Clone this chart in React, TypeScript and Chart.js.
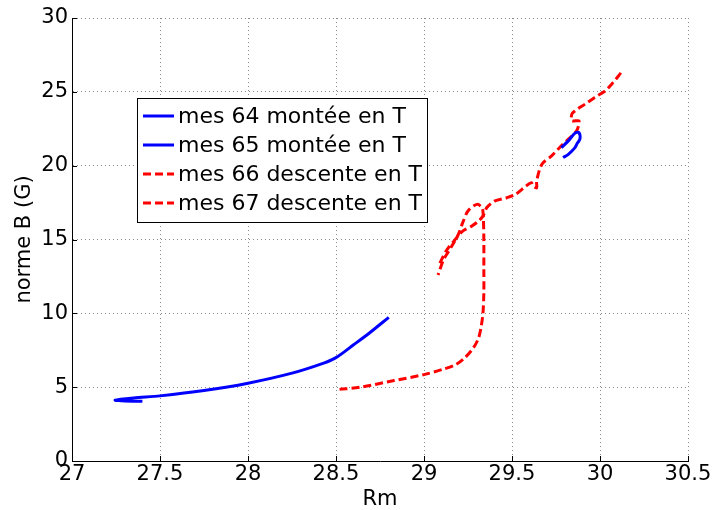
import React, { useEffect, useRef } from "react";
import { Chart, registerables } from "chart.js";

Chart.register(...registerables);

const xTicks = [27, 27.5, 28, 28.5, 29, 29.5, 30, 30.5];
const yTicks = [0, 5, 10, 15, 20, 25, 30];
const seriesLabels = [
  "mes 64 montée en T",
  "mes 65 montée en T",
  "mes 66 descente en T",
  "mes 67 descente en T",
];

const mes64X = [27.4, 27.3, 27.245, 27.35, 27.5, 27.75, 28.0, 28.25, 28.43, 28.5, 28.6, 28.69, 28.8];
const mes64Y = [4.05, 4.07, 4.12, 4.27, 4.41, 4.77, 5.27, 5.95, 6.63, 7.0, 7.87, 8.67, 9.73];

const mes65X = [29.78, 29.82, 29.858, 29.88, 29.886, 29.87, 29.858, 29.82, 29.79];
const mes65Y = [21.22, 21.68, 22.2, 22.25, 21.8, 21.5, 21.22, 20.77, 20.55];

const mes66X = [28.52, 28.64, 28.83, 29.0, 29.11, 29.18, 29.23, 29.28, 29.31, 29.325, 29.335, 29.34, 29.34, 29.34, 29.337, 29.33, 29.3, 29.25, 29.22, 29.195, 29.17, 29.14, 29.11, 29.08];
const mes66Y = [4.85, 5.0, 5.45, 5.85, 6.22, 6.52, 6.97, 7.65, 8.33, 9.12, 10.0, 11.4, 13.0, 15.0, 16.5, 17.15, 17.38, 16.93, 16.14, 15.34, 14.8, 14.2, 13.6, 12.6];

const mes67X = [29.09, 29.13, 29.186, 29.22, 29.27, 29.31, 29.336, 29.356, 29.4, 29.47, 29.52, 29.58, 29.61, 29.62, 29.64, 29.64, 29.67, 29.725, 29.78, 29.83, 29.867, 29.88, 29.88, 29.84, 29.84, 29.858, 29.915, 29.97, 30.03, 30.075, 30.12];
const mes67Y = [13.4, 14.3, 15.12, 15.57, 15.9, 16.25, 16.6, 17.15, 17.6, 17.83, 18.06, 18.62, 18.85, 18.62, 18.5, 18.96, 20.1, 20.66, 21.34, 21.9, 22.36, 22.81, 23.04, 23.04, 23.49, 23.71, 24.17, 24.62, 25.07, 25.64, 26.3];

const FONT = "'DejaVu Sans', sans-serif";

const toPts = (xs: number[], ys: number[]) => xs.map((x, i) => ({ x, y: ys[i] }));

const legendPlugin = {
  id: "boxLegend",
  afterDraw(chart: any) {
    const { ctx, chartArea } = chart;
    const left = chartArea.left + 65;
    const top = chartArea.top + 80;
    const w = 290;
    const h = 124;
    ctx.save();
    ctx.fillStyle = "#ffffff";
    ctx.fillRect(left, top, w, h);
    ctx.strokeStyle = "#000000";
    ctx.lineWidth = 1;
    ctx.setLineDash([]);
    ctx.strokeRect(left + 0.5, top + 0.5, w, h);
    chart.data.datasets.forEach((ds: any, i: number) => {
      const cy = top + 18 + i * 29;
      ctx.beginPath();
      ctx.strokeStyle = ds.borderColor;
      ctx.lineWidth = 3;
      ctx.setLineDash(ds.borderDash || []);
      ctx.moveTo(left + 6, cy);
      ctx.lineTo(left + 37, cy);
      ctx.stroke();
      ctx.setLineDash([]);
      ctx.fillStyle = "#000";
      ctx.font = `22px ${FONT}`;
      ctx.textBaseline = "middle";
      ctx.textAlign = "left";
      ctx.fillText(ds.label, left + 41, cy + 1);
    });
    ctx.restore();
  },
};

const tickMarkPlugin = {
  id: "inwardTicks",
  afterDatasetsDraw(chart: any) {
    const { ctx, chartArea, scales } = chart;
    ctx.save();
    ctx.strokeStyle = "#000";
    ctx.lineWidth = 1;
    ctx.setLineDash([]);
    xTicks.forEach((v) => {
      const px = Math.round(scales.x.getPixelForValue(v)) + 0.5;
      ctx.beginPath();
      ctx.moveTo(px, chartArea.bottom);
      ctx.lineTo(px, chartArea.bottom - 5);
      ctx.stroke();
    });
    yTicks.forEach((v) => {
      const py = Math.round(scales.y.getPixelForValue(v)) + 0.5;
      ctx.beginPath();
      ctx.moveTo(chartArea.left, py);
      ctx.lineTo(chartArea.left + 5, py);
      ctx.stroke();
    });
    ctx.restore();
  },
};

export default function App() {
  const ref = useRef<HTMLCanvasElement | null>(null);

  useEffect(() => {
    document.body.style.margin = "0";
    if (!ref.current) return;
    const blue = "#0000ff";
    const red = "#ff0000";
    const common = { borderWidth: 3, showLine: true, pointRadius: 0, fill: false, tension: 0.3 };
    const chart = new Chart(ref.current, {
      type: "scatter",
      data: {
        datasets: [
          { label: seriesLabels[0], data: toPts(mes64X, mes64Y), borderColor: blue, backgroundColor: blue, ...common },
          { label: seriesLabels[1], data: toPts(mes65X, mes65Y), borderColor: blue, backgroundColor: blue, ...common },
          { label: seriesLabels[2], data: toPts(mes66X, mes66Y), borderColor: red, backgroundColor: red, borderDash: [8, 4], ...common },
          { label: seriesLabels[3], data: toPts(mes67X, mes67Y), borderColor: red, backgroundColor: red, borderDash: [8, 4], ...common },
        ],
      },
      options: {
        animation: false,
        responsive: false,
        devicePixelRatio: 1,
        layout: { padding: { left: 0, top: 18, right: 25, bottom: 0 } },
        plugins: { legend: { display: false }, tooltip: { enabled: false } },
        scales: {
          x: {
            type: "linear",
            min: 27,
            max: 30.5,
            afterBuildTicks: (s: any) => {
              s.ticks = xTicks.map((v) => ({ value: v }));
            },
            afterFit: (s: any) => {
              s.height = 49;
            },
            ticks: { color: "#000", font: { family: FONT, size: 21 }, padding: 1, maxRotation: 0, autoSkip: false, callback: (v: any) => String(v) },
            grid: { color: "#8a8a8a", lineWidth: 1, drawTicks: false },
            border: { display: true, color: "#000", width: 1, dash: [1, 3] },
            title: { display: true, text: "Rm", color: "#000", font: { family: FONT, size: 21, lineHeight: 1 }, padding: { top: 0, bottom: 0 } },
          },
          y: {
            type: "linear",
            min: 0,
            max: 30,
            afterBuildTicks: (s: any) => {
              s.ticks = yTicks.map((v) => ({ value: v }));
            },
            afterFit: (s: any) => {
              s.width = 72;
            },
            ticks: { color: "#000", font: { family: FONT, size: 21 }, padding: 4, autoSkip: false, callback: (v: any) => String(v) },
            grid: { color: "#8a8a8a", lineWidth: 1, drawTicks: false },
            border: { display: true, color: "#000", width: 1, dash: [1, 3] },
            title: { display: true, text: "norme B (G)", color: "#000", font: { family: FONT, size: 21, lineHeight: 1 }, padding: { top: 14, bottom: 0 } },
          },
        },
      },
      plugins: [tickMarkPlugin, legendPlugin],
    } as any);
    return () => chart.destroy();
  }, []);

  return (
    <div style={{ position: "absolute", left: 0, top: 0, width: 713, height: 510, background: "#fff" }}>
      <canvas ref={ref} width={713} height={510} style={{ width: 713, height: 510, display: "block" }} />
    </div>
  );
}
